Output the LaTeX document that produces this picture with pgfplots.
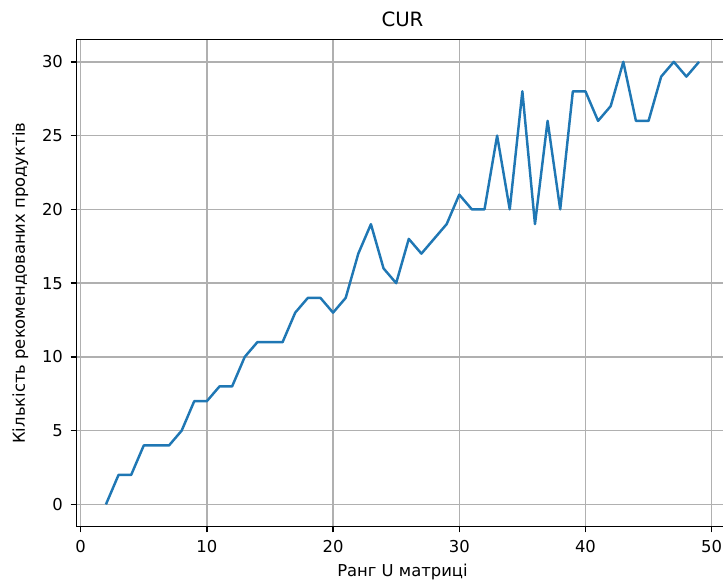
\documentclass[border=0pt]{standalone}
\usepackage{pgfplots}
\pgfplotsset{compat=1.18}
\usepackage{fontspec}
\setmainfont{DejaVu Sans}
\definecolor{c0}{HTML}{1F77B4}
\definecolor{gridc}{HTML}{B0B0B0}
\begin{document}
\begin{tikzpicture}
\useasboundingbox (-54.9pt,-40.7pt) rectangle (465.6pt,379.1pt);
\begin{axis}[
 at={(0pt,0pt)}, anchor=south west,
 scale only axis, width=469.7pt, height=350.5pt,
 xmin=-0.35, xmax=51.35, ymin=-1.5, ymax=31.5,
 xtick={0,10,...,50}, ytick={0,5,...,30},
 grid=major, major grid style={color=gridc, line width=0.94pt},
 axis line style={line width=0.94pt},
 tick align=outside, major tick length=4.1pt,
 xtick style={black, line width=0.94pt},
 ytick style={black, line width=0.94pt},
 xtick pos=left, ytick pos=left,
 tick label style={font=\fontsize{11.8}{14}\selectfont},
 xticklabel style={yshift=-2pt},
 yticklabel style={xshift=-2pt},
 /pgf/number format/assume math mode=true,
 label style={font=\fontsize{11.8}{14}\selectfont},
 title style={font=\fontsize{14.2}{17}\selectfont, at={(axis description cs:0.5,1)}, anchor=center, yshift=8.4pt},
 xlabel style={at={(axis description cs:0.5,0)}, anchor=center, yshift=-33pt},
 ylabel style={at={(axis description cs:0,0.5)}, anchor=center, yshift=40.3pt},
 title={CUR},
 xlabel={Ранг U матриці},
 ylabel={Кількість рекомендованих продуктів},
]
\addplot[c0, line width=1.77pt, line join=round] table {
x y
2 0
3 2
4 2
5 4
6 4
7 4
8 5
9 7
10 7
11 8
12 8
13 10
14 11
15 11
16 11
17 13
18 14
19 14
20 13
21 14
22 17
23 19
24 16
25 15
26 18
27 17
28 18
29 19
30 21
31 20
32 20
33 25
34 20
35 28
36 19
37 26
38 20
39 28
40 28
41 26
42 27
43 30
44 26
45 26
46 29
47 30
48 29
49 30
};
\end{axis}
\end{tikzpicture}
\end{document}
